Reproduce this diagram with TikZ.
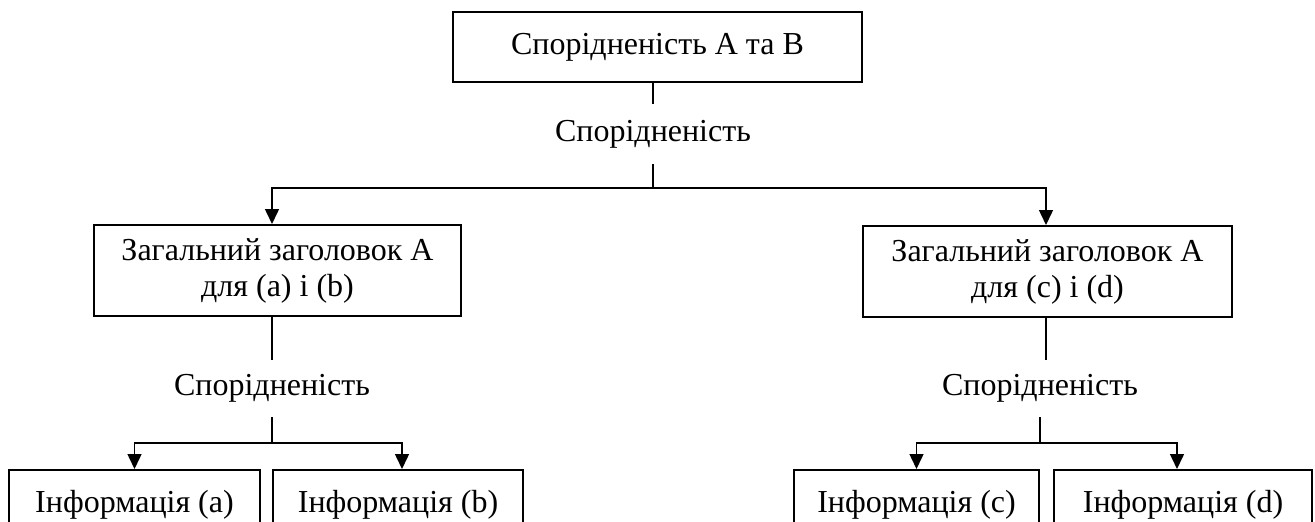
\documentclass[tikz,border=0pt]{standalone}
\usepackage{fontspec}
\setmainfont{Liberation Serif}
\usetikzlibrary{arrows.meta}
\begin{document}
\begin{tikzpicture}[x=1pt,y=-1pt,
  txt/.style={font=\fontsize{32}{36}\selectfont},
  box/.style={txt,draw,line width=2pt,inner sep=0pt,align=center,minimum width=#1},
  rel/.style={txt,inner sep=0pt,minimum height=57pt},
  conn/.style={line width=1.5pt},
  arr/.style={conn,-{Triangle[length=15pt,width=14pt]}}]
\useasboundingbox (0,0) rectangle (1315,522);
\clip (0,0) rectangle (1315,522);
% top
\node[box=409pt,minimum height=70pt] (top) at (657.5,47) {Спорідненість А та В};
\node[rel,minimum height=60pt] (rel0) at (653,134) {Спорідненість};
\coordinate (j0) at (653,188);
% middle
\node[box=367pt,minimum height=91pt] (L) at (277.5,270.5) {Загальний заголовок А\\для (a) і (b)};
\node[box=369pt,minimum height=91pt] (R) at (1047.5,271.5) {Загальний заголовок А\\для (c) і (d)};
\node[rel] (rel1) at (272,388.5) {Спорідненість};
\node[rel] (rel2) at (1040,388.5) {Спорідненість};
\coordinate (j1) at (272,443);
\coordinate (j2) at (1040,443);
% bottom
\node[box=251pt,minimum height=70pt] (a) at (134.5,505) {Інформація (a)};
\node[box=250pt,minimum height=70pt] (b) at (398,505) {Інформація (b)};
\node[box=245pt,minimum height=70pt] (c) at (916.5,505) {Інформація (c)};
\node[box=258pt,minimum height=70pt] (d) at (1183,505) {Інформація (d)};
% connectors
\draw[conn] (rel0.north |- top.south) -- (rel0.north);
\draw[conn] (rel0.south) -- (j0);
\draw[arr] (j0) -| (rel1 |- L.north);
\draw[arr] (j0) -| ([xshift=-1.5pt]R.north);
\draw[conn] (rel1 |- L.south) -- (rel1.north);
\draw[conn] (rel1.south) -- (j1);
\draw[arr] (j1) -| (a.north);
\draw[arr] (j1) -| ([xshift=4pt]b.north);
\draw[conn] ([xshift=-1.5pt]R.south) -- ([xshift=-1.5pt]R.south |- rel2.north);
\draw[conn] (rel2.south) -- (j2);
\draw[arr] (j2) -| (c.north);
\draw[arr] (j2) -| ([xshift=-6pt]d.north);
\end{tikzpicture}
\end{document}
